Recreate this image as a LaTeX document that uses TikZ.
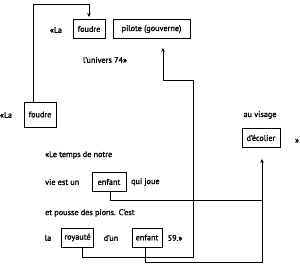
\documentclass[tikz,border=0pt]{standalone}
\usepackage{fontspec}
\setmainfont{PT Sans}[AutoFakeBold=1.3]
\usetikzlibrary{arrows.meta,positioning,calc}
\tikzset{
  wbox/.style={draw, line width=0.9pt, inner sep=2.5pt, minimum height=19pt, font=\fontsize{8.2}{9}\selectfont\bfseries},
  wtxt/.style={inner sep=0pt, font=\fontsize{8.2}{9}\selectfont\bfseries},
  lnk/.style={line width=0.9pt},
  arr/.style={-{Stealth[length=4pt,width=3.5pt]}, line width=0.9pt},
}
\begin{document}
\begin{tikzpicture}[x=1pt,y=-1pt]
  \useasboundingbox (0,0) rectangle (300,267);
  % first quotation
  \node[wtxt] (la1) at (56,30) {«La};
  \node[wbox, minimum width=32pt] (foudreA) at (89,29) {foudre};
  \node[wbox, minimum width=77pt] (pilote) at (151.5,29) {pilote (gouverne)};
  \node[wtxt] (univ) at (105,60) {l'univers 74»};
  % second quotation
  \node[wtxt] (la2) at (6,115) {«La};
  \node[wbox, minimum width=32pt, minimum height=25pt] (foudreB) at (40,114.5) {foudre};
  \node[wtxt] (visage) at (260,115) {au visage};
  \node[wbox, minimum width=38pt] (ecolier) at (261,138) {d'écolier};
  \node[wtxt] (guill) at (297,141) {»};
  % third quotation
  \node[wtxt, anchor=west] (temps) at (45,155) {«Le temps de notre};
  \node[wtxt, anchor=west] (vie) at (45,182) {vie est un};
  \node[wbox, minimum width=34pt] (enfantA) at (109,182) {enfant};
  \node[wtxt, anchor=west] (joue) at (131,182) {qui joue};
  \node[wtxt, anchor=west] (pions) at (45,213) {et pousse des pions. C'est};
  \node[wtxt] (la3) at (48,238) {la};
  \node[wbox, minimum width=31pt] (royaute) at (77.5,237.5) {royauté};
  \node[wtxt] (dun) at (111,238) {d'un};
  \node[wbox, minimum width=30pt] (enfantB) at (147,237.5) {enfant};
  \node[wtxt] (fin) at (175,238) {59.»};
  % links
  \coordinate (t1) at (33,4);
  \coordinate (r1) at (193,257);
  \coordinate (r2) at (163,80);
  \coordinate (e1) at (262,200);
  \coordinate (e2) at (262,262);
  \draw[arr] (t1 |- foudreB.north) -- (t1) -| ([yshift=2pt]foudreA.north);
  \draw[arr] ([xshift=5pt]royaute.south) |- (r1) |- (r2) -- ([yshift=-9pt]r2 |- pilote.south);
  \draw[lnk] ([xshift=-2pt]enfantB.south) |- (e2) -- (e1);
  \draw[arr] ([xshift=1pt]enfantA.south) |- (e1) -- ([yshift=-11pt]e1 |- ecolier.south);
\end{tikzpicture}
\end{document}
